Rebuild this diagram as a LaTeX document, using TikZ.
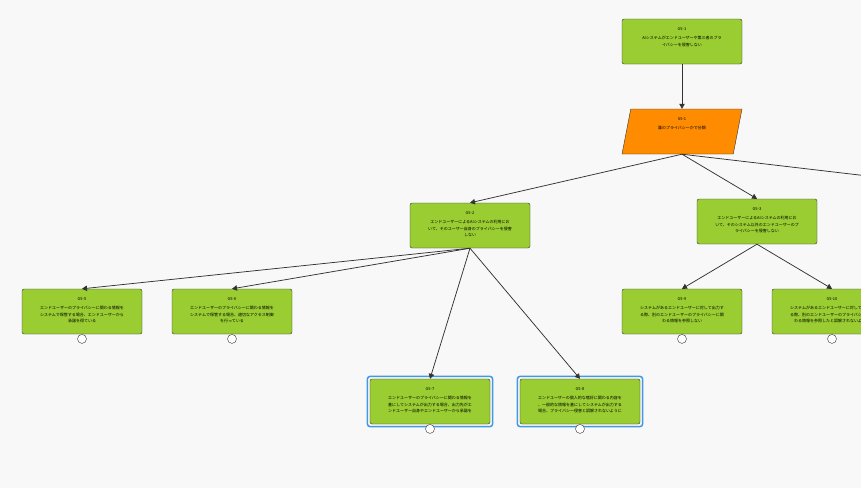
\documentclass[tikz,border=0pt]{standalone}
\usepackage{fontspec}
\setmainfont{Noto Sans CJK JP}
\usetikzlibrary{shapes.geometric,arrows.meta,positioning}
\definecolor{goalgreen}{RGB}{154,205,50}
\definecolor{stratorange}{RGB}{255,140,0}
\definecolor{linegray}{RGB}{51,51,51}
\definecolor{bggray}{RGB}{248,248,248}
\definecolor{selblue}{RGB}{66,153,225}
\tikzset{
    goal/.style={
        draw=linegray, rectangle, rounded corners=2pt,
        fill=goalgreen, minimum width=120pt, minimum height=45pt,
        inner sep=2pt, text=black,
        font=\fontsize{4}{6.5}\selectfont
    },
    strategy/.style={
        draw=linegray, trapezium, trapezium left angle=79,
        trapezium right angle=101, trapezium stretches body,
        fill=stratorange, minimum width=120pt, minimum height=45pt,
        inner sep=2pt, text=black,
        font=\fontsize{4}{6.5}\selectfont
    },
    undev/.style={
        draw=linegray, circle, fill=white,
        minimum size=9pt, inner sep=0pt
    },
    selected/.style={draw=selblue, line width=1.5pt, rounded corners=3pt}
}
\newcommand{\gtext}[3][116pt]{\parbox[c][41pt][t]{#1}{\centering\vspace*{7pt}#2\\[2.5pt]#3}}

\begin{document}
\begin{tikzpicture}[
        x=1pt, y=-1pt,
        link/.style={draw=linegray, line width=0.75pt, -{Triangle[length=5pt,width=5.5pt]}}
      ]

  \path[use as bounding box, fill=bggray] (0,0) rectangle (861,488);
  \clip (0,0) rectangle (861,488);

  \node[goal] (g51) at (682,41.5)
    {\gtext{G5-1}{AIシステムがエンドユーザーや第三者のプラ\\イバシーを侵害しない}};
  \node[strategy] (s51) at (682,131.5)
    {\gtext[90pt]{S5-1}{誰のプライバシーかで分類}};

  \node[goal] (g52) at (470,225.5)
    {\gtext{G5-2}{エンドユーザーによるAIシステムの利用にお\\いて、そのユーザー自身のプライバシーを侵害\\しない}};
  \node[goal] (g53) at (757,221.5)
    {\gtext{G5-3}{エンドユーザーによるAIシステムの利用にお\\いて、そのシステム以外のエンドユーザーのプ\\ライバシーを侵害しない}};
  \coordinate (g54) at (1064,199);

  \node[goal] (g55) at (82,311.5)
    {\gtext{G5-5}{エンドユーザーのプライバシーに関わる情報を\\システムで保管する場合、エンドユーザーから\\承諾を得ている}};
  \node[goal] (g56) at (232,311.5)
    {\gtext{G5-6}{エンドユーザーのプライバシーに関わる情報を\\システムで保管する場合、適切なアクセス制御\\を行っている}};
  \node[goal] (g57) at (430,401.5)
    {\gtext{G5-7}{エンドユーザーのプライバシーに関わる情報を\\基にしてシステムが出力する場合、出力先がエ\\ンドユーザー自身やエンドユーザーから承諾を}};
  \node[goal] (g58) at (580,401.5)
    {\gtext{G5-8}{エンドユーザーの個人的な嗜好に関わる内容を\\、一般的な情報を基にしてシステムが出力する\\場合、プライバシー侵害と誤解されないように}};
  \node[goal] (g59) at (682,311.5)
    {\gtext{G5-9}{システムがあるエンドユーザーに対して出力す\\る際、別のエンドユーザーのプライバシーに関\\わる情報を参照しない}};
  \node[goal] (g510) at (832,311.5)
    {\gtext{G5-10}{システムがあるエンドユーザーに対して出力す\\る際、別のエンドユーザーのプライバシーに関\\わる情報を参照したと誤解されないように}};

  % selected goals
  \draw[selected] ([shift={(-2.5pt,2.5pt)}]g57.north west) rectangle ([shift={(2.5pt,-2.5pt)}]g57.south east);
  \draw[selected] ([shift={(-2.5pt,2.5pt)}]g58.north west) rectangle ([shift={(2.5pt,-2.5pt)}]g58.south east);

  \node[undev, below=0pt of g55] (u55) {};
  \node[undev, below=0pt of g56] (u56) {};
  \node[undev, below=0pt of g57] (u57) {};
  \node[undev, below=0pt of g58] (u58) {};
  \node[undev, below=0pt of g59] (u59) {};
  \node[undev, below=0pt of g510] (u510) {};

  \draw[link] (g51) -- (s51);
  \draw[link] (s51.south) -- (g52.north);
  \draw[link] (s51.south) -- (g53.north);
  \draw[link] (s51.south) -- (g54);
  \draw[link] (g52.south) -- (g55.north);
  \draw[link] (g52.south) -- (g56.north);
  \draw[link] (g52.south) -- (g57.north);
  \draw[link] (g52.south) -- (g58.north);
  \draw[link] (g53.south) -- (g59.north);
  \draw[link] (g53.south) -- (g510.north);

\end{tikzpicture}
\end{document}
